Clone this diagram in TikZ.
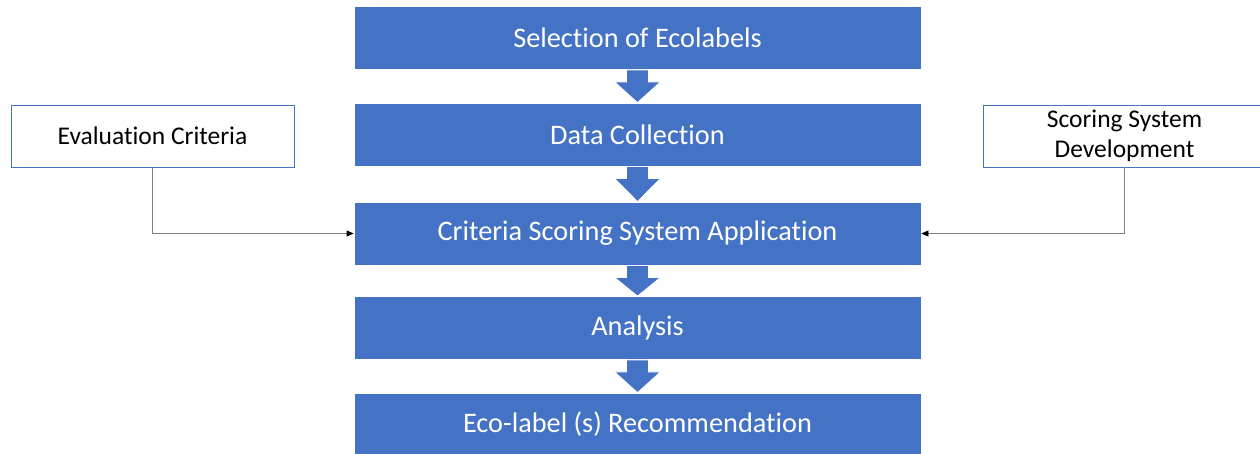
\documentclass[tikz,border=0pt]{standalone}
\usepackage{fontspec}
\setmainfont[RawFeature={-liga;-clig;-dlig;-calt;-rlig}]{Carlito}
\usetikzlibrary{calc,arrows.meta}
\definecolor{officeblue}{HTML}{4472C4}
\definecolor{connGray}{HTML}{808080}
\tikzset{
  stage/.style={rectangle, fill=officeblue, draw=white, line width=0.8pt,
    minimum width=567pt, minimum height=63pt, inner sep=0pt,
    text=white, font=\fontsize{28.3}{32}\selectfont},
  sidebox/.style={rectangle, fill=white, draw=officeblue, line width=0.8pt,
    minimum width=283pt, minimum height=62pt, inner sep=0pt, align=center,
    text=black, font=\fontsize{25.5}{30}\selectfont},
  flowarrow/.style={fill=officeblue, draw=white, line width=0.8pt},
  conn/.style={draw=connGray, line width=0.8pt,
    -{Triangle[length=7pt,width=6pt,fill=black,color=black]}},
}
\newcommand{\blockarrow}[2]{%
  \path[flowarrow] ($(#1.south)+(-11,0)$) -- ($(#1.south)+(-11,12)$)
    -- ($(#1.south)+(-23,12)$) -- (#2.north) -- ($(#1.south)+(23,12)$)
    -- ($(#1.south)+(11,12)$) -- ($(#1.south)+(11,0)$) -- cycle;}
\begin{document}
\begin{tikzpicture}[x=1pt,y=-1pt]
  \useasboundingbox[fill=white] (0,0) rectangle (1260,453);
  % main process column
  \node[stage] (sel)  at (637.5,38)    {Selection of Ecolabels};
  \node[stage] (data) at (637.5,134.5) {Data Collection};
  \node[stage] (apply) at (637.5,233.5) {Criteria Scoring System Application};
  \node[stage] (ana)  at (637.5,328)   {Analysis};
  \node[stage] (rec)  at (637.5,424.5) {Eco-label (s) Recommendation};
  % block arrows between stages
  \blockarrow{sel}{data}
  \blockarrow{data}{apply}
  \blockarrow{apply}{ana}
  \blockarrow{ana}{rec}
  % inputs to the scoring step
  \node[sidebox] (crit) at (152.5,136) {Evaluation Criteria};
  \node[sidebox] (score) at (1124.5,136) {Scoring System\\Development};
  \draw[conn] (crit.south) |- (apply.west);
  \draw[conn] (score.south) |- (apply.east);
\end{tikzpicture}
\end{document}
